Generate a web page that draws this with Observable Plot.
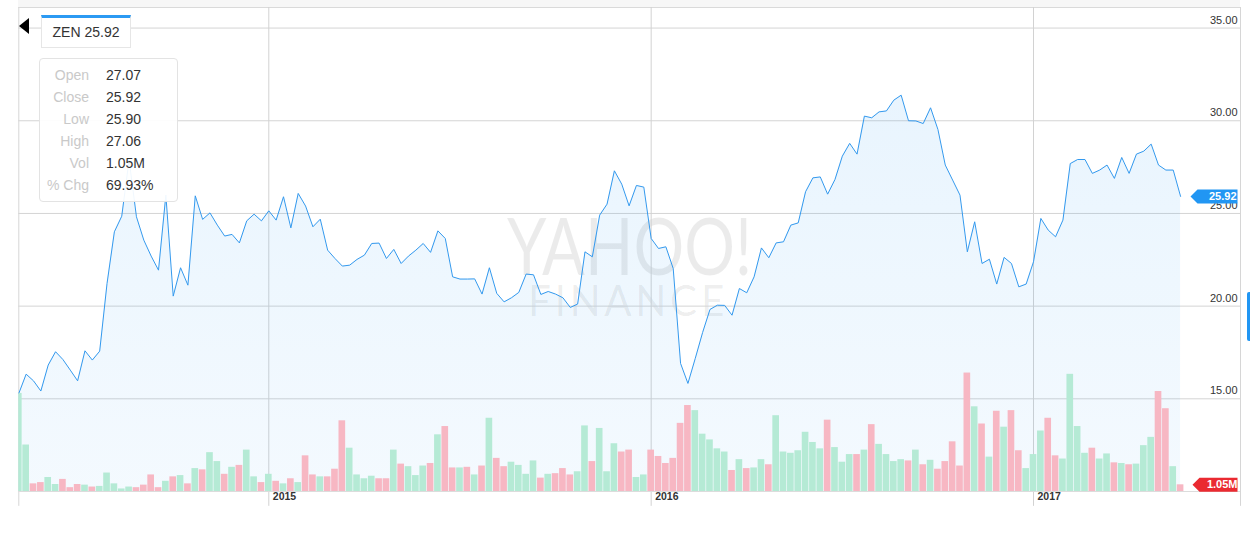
<!DOCTYPE html>
<html>
<head>
<meta charset="utf-8">
<script src="https://cdn.jsdelivr.net/npm/d3@7"></script>
<script src="https://cdn.jsdelivr.net/npm/@observablehq/plot@0.6"></script>
<style>
  html, body { margin: 0; padding: 0; background: #fff; }
  body { font-family: "Liberation Sans", Arial, Helvetica, sans-serif; }
  #wrap { position: relative; width: 1250px; height: 534px; overflow: hidden; background: #fff; }
  #wrap .layer { position: absolute; left: 0; top: 0; }
  .topband { position: absolute; left: 18px; top: 0; width: 1222px; height: 7px; background: #f7f7f7; }
  .wm { position: absolute; color: rgba(0,0,0,0.08); font-family: Lato, "Open Sans", sans-serif; font-weight: 400; white-space: nowrap; transform-origin: 0 0; }
  .arrow { position: absolute; left: 19px; top: 18px; width: 0; height: 0; border-top: 8px solid transparent; border-bottom: 8px solid transparent; border-right: 10px solid #000; }
  .tickerbox { position: absolute; left: 41px; top: 15px; width: 88px; height: 29px; border: 1px solid #e6e6e6; border-top: 3px solid #2b9af3; background: #fff; box-sizing: content-box; text-align: center; font-size: 14px; color: #333; line-height: 29px; }
  .info { position: absolute; left: 39px; top: 58px; width: 137px; height: 142px; border: 1px solid #e3e3e3; border-radius: 4px; background: rgba(255,255,255,0.93); }
  .info .row { position: absolute; left: 0; width: 137px; height: 22px; line-height: 22px; font-size: 14px; }
  .info .lab { position: absolute; right: 88px; color: #c9c9c9; text-align: right; white-space: nowrap; }
  .info .val { position: absolute; left: 66px; color: #333; white-space: nowrap; }
  .handle { position: absolute; left: 1247px; top: 292px; width: 5px; height: 49px; background: #2196f3; border-radius: 2px; }
</style>
</head>
<body>
<div id="wrap"></div>
<script>
// ---------- data ----------
const ticker = "ZEN";
const yearLabels = ["2015", "2016", "2017"];
const yearStartWeek = [34, 86, 138];          // week index of first bar of each year
const priceTicks = [15, 20, 25, 30, 35];

// weekly closing price (USD)
const price = [
  15.29, 16.33, 15.97, 15.42, 16.82, 17.54, 17.12, 16.55, 15.97, 17.59,
  17.09, 17.57, 21.22, 24.01, 24.85, 27.90, 24.82, 23.56, 22.70, 21.94,
  25.99, 20.54, 22.07, 21.13, 25.95, 24.68, 25.03, 24.37, 23.78, 23.87,
  23.41, 24.60, 24.96, 24.60, 25.14, 24.64, 25.90, 24.22, 26.08, 25.40,
  24.28, 24.69, 23.02, 22.57, 22.16, 22.21, 22.52, 22.75, 23.38, 23.40,
  22.57, 23.06, 22.30, 22.70, 23.02, 23.38, 22.90, 24.06, 23.65, 21.58,
  21.46, 21.46, 21.47, 20.65, 22.07, 20.69, 20.23, 20.45, 20.74, 21.73,
  21.69, 20.63, 20.79, 20.65, 20.45, 19.93, 20.11, 22.93, 22.66, 24.91,
  25.50, 27.30, 26.58, 25.41, 26.51, 26.42, 23.65, 23.11, 23.20, 22.03,
  16.91, 15.83, 17.18, 18.58, 19.82, 20.05, 20.04, 19.51, 20.95, 20.72,
  21.58, 23.14, 22.61, 23.41, 23.47, 24.37, 24.49, 26.17, 26.92, 26.97,
  26.04, 26.83, 28.09, 28.78, 28.20, 30.25, 30.16, 30.48, 30.53, 31.11,
  31.38, 30.00, 29.99, 29.85, 30.70, 29.53, 27.61, 26.80, 25.99, 22.93,
  24.55, 22.30, 22.53, 21.19, 22.63, 22.30, 21.04, 21.19, 22.39, 24.73,
  24.10, 23.74, 24.64, 27.69, 27.91, 27.91, 27.16, 27.34, 27.61, 26.89,
  28.02, 27.16, 28.20, 28.36, 28.74, 27.61, 27.34, 27.34, 25.92
];

// weekly volume (millions of shares)
const volume = [
  15.4, 7.3, 1.2, 1.4, 2.2, 1.1, 1.9, 0.6, 1.1, 1.0,
  0.7, 0.8, 2.9, 1.2, 0.4, 0.7, 0.6, 1.0, 2.6, 0.6,
  1.6, 2.3, 2.5, 1.2, 3.6, 3.4, 6.1, 4.7, 2.7, 3.8,
  4.1, 6.5, 2.3, 1.4, 2.7, 1.6, 1.2, 2.0, 1.4, 5.6,
  2.6, 2.3, 2.3, 3.5, 11.1, 6.8, 2.6, 2.0, 2.4, 2.0,
  2.0, 6.5, 4.3, 3.9, 2.5, 4.0, 4.4, 8.9, 10.2, 3.7,
  3.7, 3.8, 2.6, 4.0, 11.5, 5.2, 3.9, 4.6, 4.1, 2.7,
  4.8, 2.1, 2.7, 2.8, 3.6, 2.6, 3.1, 10.3, 4.7, 9.9,
  3.1, 7.5, 6.2, 6.5, 2.2, 2.6, 6.5, 5.5, 4.4, 5.2,
  10.7, 13.5, 12.7, 9.0, 8.1, 6.7, 6.2, 3.3, 5.0, 3.6,
  3.7, 5.0, 4.2, 11.9, 6.2, 6.0, 6.4, 9.3, 7.7, 6.7,
  11.2, 6.9, 4.6, 5.8, 5.8, 6.5, 10.5, 7.4, 5.8, 4.7,
  5.0, 4.8, 6.5, 4.2, 4.9, 3.5, 4.7, 7.8, 4.0, 18.6,
  13.3, 10.6, 5.4, 12.6, 10.1, 12.7, 6.4, 3.6, 5.8, 9.5,
  11.5, 5.6, 5.1, 18.4, 10.2, 6.0, 6.8, 5.1, 5.9, 4.5,
  4.4, 4.2, 4.3, 7.2, 8.5, 15.7, 13.0, 3.9, 1.05
];

// bar colour: u = up week (green), d = down week (red)
const direction = [
  "u","u","d","d","u","u","d","d","d","u",
  "d","u","u","u","u","u","d","d","d","d",
  "u","d","u","d","u","d","u","u","d","u",
  "d","u","u","d","u","d","u","d","u","d",
  "d","u","d","d","d","u","u","u","u","d",
  "d","u","d","u","u","u","d","u","d","d",
  "u","d","u","d","u","d","d","u","u","u",
  "u","d","u","d","d","d","u","u","d","u",
  "u","u","d","d","u","u","d","d","d","d",
  "d","d","u","u","u","u","u","d","u","d",
  "u","u","d","u","u","u","u","u","u","u",
  "d","u","u","u","d","u","d","u","u","u",
  "u","d","u","d","u","d","d","d","d","d",
  "u","d","u","d","u","d","d","u","u","u",
  "d","d","u","u","u","u","d","u","u","d",
  "u","d","u","u","u","d","d","u","d"
];

const infoLabels = ["Open", "Close", "Low", "High", "Vol", "% Chg"];
const infoValues = ["27.07", "25.92", "25.90", "27.06", "1.05M", "69.93%"];

// ---------- build ----------
const rows = price.map((p, i) => ({ i, price: p, vol: volume[i], dir: direction[i] }));
const xDomain = [0, 166.15];
const yDomain = [10, 36.11];
const yBelow = 9.2; // rules extend a little under the baseline
const lastPrice = price[price.length - 1];
const lastVol = volume[volume.length - 1];

const badge = (w) => ({
  draw(ctx) {
    const h = 7, half = w / 2;
    ctx.moveTo(-half, 0);
    ctx.lineTo(-half + 7, -h);
    ctx.lineTo(half, -h);
    ctx.lineTo(half, h);
    ctx.lineTo(-half + 7, h);
    ctx.closePath();
  }
});

const common = {
  width: 1250, height: 534,
  marginTop: 7, marginBottom: 43, marginLeft: 18.3, marginRight: 10,
  x: { domain: xDomain, axis: null },
  style: { fontFamily: '"Liberation Sans", Arial, sans-serif', background: "transparent", overflow: "visible" }
};

const pricePlot = Plot.plot({
  ...common,
  y: { domain: yDomain, axis: null },
  marks: [
    Plot.ruleY(priceTicks, { stroke: "#d4d4d4", strokeWidth: 1 }),
    Plot.ruleY([yDomain[1]], { stroke: "#dadada" }),
    Plot.ruleX(yearStartWeek, { y1: yDomain[1], y2: yBelow, stroke: "#d2d2d2" }),
    Plot.ruleX(xDomain, { y1: yDomain[1], y2: yBelow, stroke: "#d6d6d6" }),
    Plot.areaY(rows, { x: "i", y1: yDomain[0], y2: "price", fill: "url(#pgrad)" }),
    Plot.lineY(rows, { x: "i", y: "price", stroke: "#3399ee", strokeWidth: 1 }),
    Plot.text(priceTicks, {
      y: d => d, frameAnchor: "right", text: d => d.toFixed(2),
      textAnchor: "end", dx: -3, dy: -8, fontSize: 11, fill: "#333"
    }),
    Plot.text(yearLabels, {
      x: (d, k) => yearStartWeek[k], frameAnchor: "bottom", text: d => d,
      textAnchor: "start", dx: 4, dy: 8, fontSize: 10.5, fontWeight: "bold", fill: "#333"
    }),
    Plot.dot([lastPrice], { x: () => xDomain[1], y: d => d, symbol: badge(47), fill: "#2196f3", dx: -26.5 }),
    Plot.text([lastPrice], {
      x: () => xDomain[1], y: d => d, text: d => d.toFixed(2),
      textAnchor: "end", dx: -4, fontSize: 11, fontWeight: "bold", fill: "#fff"
    })
  ]
});

const volPlot = Plot.plot({
  ...common,
  y: { domain: [0, 76], axis: null },
  color: { domain: ["u", "d"], range: ["#b5ead5", "#f7b7c3"] },
  marks: [
    Plot.rect(rows, {
      x1: d => d.i - 0.5, x2: d => d.i + 0.5, y1: 0, y2: "vol",
      fill: "dir", insetLeft: 0.35, insetRight: 0.35, clip: true
    }),
    Plot.ruleY([0], { stroke: "#dcdcdc" }),
    Plot.dot([lastVol], { x: () => xDomain[1], y: d => d, symbol: badge(45), fill: "#ea2a31", dx: -25.5 }),
    Plot.text([lastVol], {
      x: () => xDomain[1], y: d => d, text: d => d.toFixed(2) + "M",
      textAnchor: "end", dx: -3, fontSize: 11, fontWeight: "bold", fill: "#fff"
    })
  ]
});

// gradient for the price area
const defs = d3.select(pricePlot).insert("defs", ":first-child");
const g = defs.append("linearGradient").attr("id", "pgrad").attr("x1", 0).attr("y1", 0).attr("x2", 0).attr("y2", 1);
g.append("stop").attr("offset", "0%").attr("stop-color", "#2196f3").attr("stop-opacity", 0.10);
g.append("stop").attr("offset", "100%").attr("stop-color", "#2196f3").attr("stop-opacity", 0.05);

// ---------- assemble ----------
const wrap = document.getElementById("wrap");
const band = document.createElement("div"); band.className = "topband"; wrap.appendChild(band);

const wm1 = document.createElement("div");
wm1.className = "wm"; wm1.textContent = "YAHOO!";
wm1.style.cssText = "left:507px;top:212px;font-size:80px;line-height:64px;";
wrap.appendChild(wm1);
const wm2 = document.createElement("div");
wm2.className = "wm"; wm2.textContent = "FINANCE";
wm2.style.cssText = "left:528px;top:283px;font-size:42px;line-height:34px;letter-spacing:4px;";
wrap.appendChild(wm2);

pricePlot.classList.add("layer");
volPlot.classList.add("layer");
wrap.appendChild(pricePlot);
wrap.appendChild(volPlot);

// fit watermark widths
[[wm1, 245], [wm2, 200]].forEach(([el, w]) => {
  const cw = el.getBoundingClientRect().width;
  if (cw > 0) el.style.transform = `scaleX(${w / cw})`;
});

const arrow = document.createElement("div"); arrow.className = "arrow"; wrap.appendChild(arrow);
const tb = document.createElement("div"); tb.className = "tickerbox";
tb.textContent = `${ticker} ${lastPrice.toFixed(2)}`; wrap.appendChild(tb);

const info = document.createElement("div"); info.className = "info";
infoLabels.forEach((lab, k) => {
  const r = document.createElement("div"); r.className = "row";
  r.style.top = (5 + 22 * k) + "px";
  r.innerHTML = `<span class="lab"></span><span class="val"></span>`;
  r.querySelector(".lab").textContent = lab;
  r.querySelector(".val").textContent = infoValues[k];
  info.appendChild(r);
});
wrap.appendChild(info);

const handle = document.createElement("div"); handle.className = "handle"; wrap.appendChild(handle);
</script>
</body>
</html>
